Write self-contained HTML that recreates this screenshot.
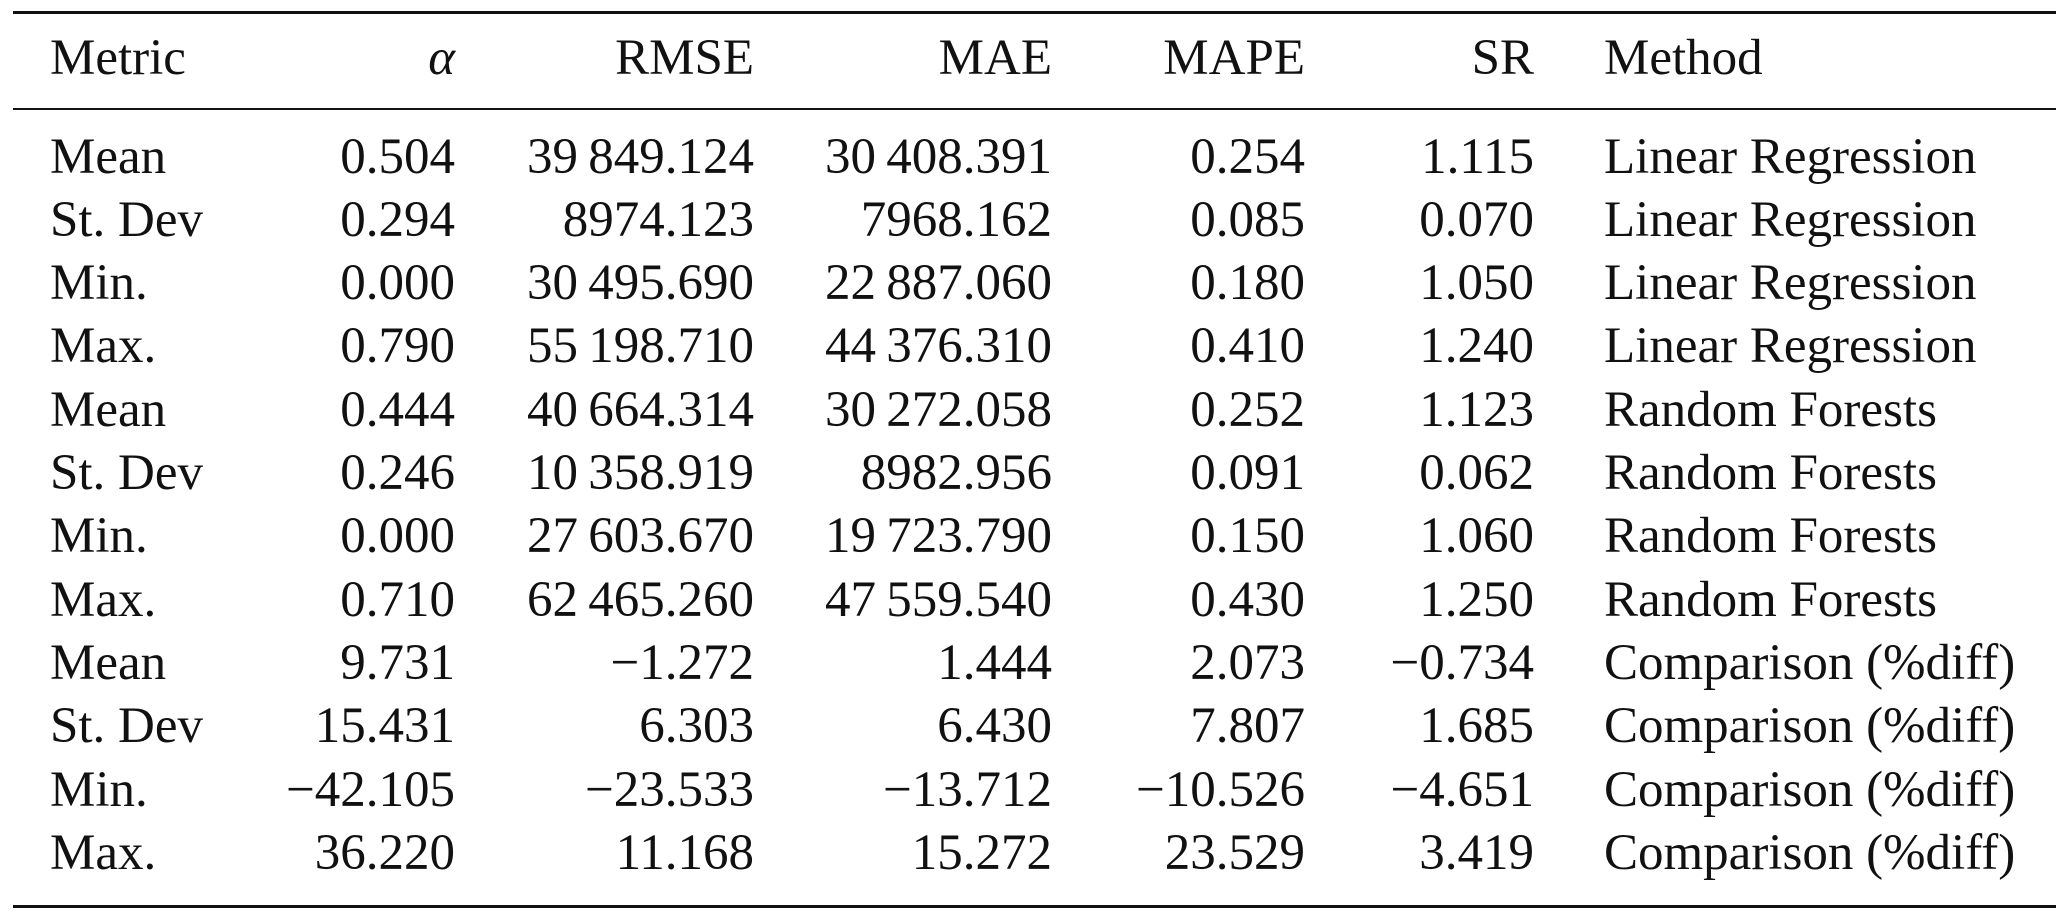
<!DOCTYPE html>
<html><head><meta charset="utf-8"><style>
body{margin:0;background:#fff;width:2067px;height:917px;position:relative;overflow:hidden;font-family:"Liberation Serif",serif;font-size:51px;color:#111}
.r{position:absolute;left:13px;width:2043px;background:#111}
.t{position:absolute;line-height:1;white-space:nowrap}
.R{text-align:right}
</style></head><body>
<div class="r" style="top:11px;height:3px"></div>
<div class="r" style="top:108px;height:2px"></div>
<div class="r" style="top:905px;height:3px"></div>
<div id="c"></div>
<script>
var rows=[["Metric","<i>α</i>","RMSE","MAE","MAPE","SR","Method"],
["Mean","0.504","39 849.124","30 408.391","0.254","1.115","Linear Regression"],
["St. Dev","0.294","8974.123","7968.162","0.085","0.070","Linear Regression"],
["Min.","0.000","30 495.690","22 887.060","0.180","1.050","Linear Regression"],
["Max.","0.790","55 198.710","44 376.310","0.410","1.240","Linear Regression"],
["Mean","0.444","40 664.314","30 272.058","0.252","1.123","Random Forests"],
["St. Dev","0.246","10 358.919","8982.956","0.091","0.062","Random Forests"],
["Min.","0.000","27 603.670","19 723.790","0.150","1.060","Random Forests"],
["Max.","0.710","62 465.260","47 559.540","0.430","1.250","Random Forests"],
["Mean","9.731","−1.272","1.444","2.073","−0.734","Comparison (%diff)"],
["St. Dev","15.431","6.303","6.430","7.807","1.685","Comparison (%diff)"],
["Min.","−42.105","−23.533","−13.712","−10.526","−4.651","Comparison (%diff)"],
["Max.","36.220","11.168","15.272","23.529","3.419","Comparison (%diff)"]];
var rights=[455,754,1052,1305,1534];
var h="";
rows.forEach(function(r,i){
 var c=i==0?57:155.5+63.3*(i-1);
 var top=c-24;
 h+='<div class="t" style="left:50px;top:'+top+'px">'+r[0]+'</div>';
 for(var j=0;j<5;j++){
  var s=r[j+1];
  if(/^[−\d]/.test(s)) s=s.replace(/ /g,'\u2009');
  h+='<div class="t R" style="right:'+(2067-rights[j])+'px;top:'+top+'px">'+s+'</div>';}
 h+='<div class="t" style="left:1604px;top:'+top+'px">'+r[6]+'</div>';
});
document.getElementById("c").innerHTML=h;
</script>
</body></html>
